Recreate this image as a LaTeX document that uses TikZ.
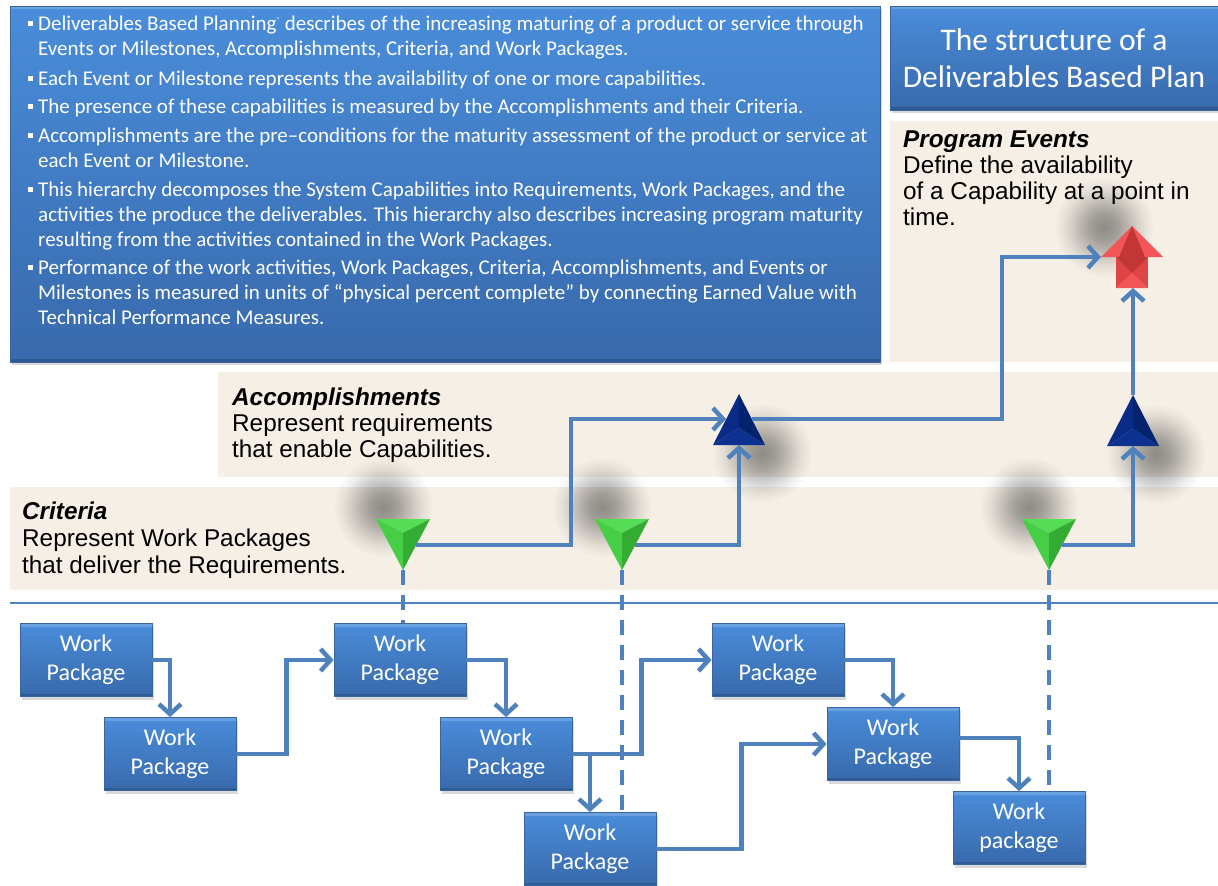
\documentclass[tikz,border=0pt]{standalone}
\usepackage{fontspec}
\setmainfont{Carlito}
\newfontfamily\labelfont{Liberation Sans}
\usetikzlibrary{arrows.meta,shadows,fadings,calc}

\definecolor{panelbg}{HTML}{F5EFE6}
\definecolor{linkblue}{HTML}{4F81BD}
\definecolor{boxtop}{HTML}{4A8DDA}
\definecolor{boxbot}{HTML}{3869AC}
\definecolor{boxedge}{HTML}{3A659E}
\definecolor{crittop}{HTML}{55DD55}
\definecolor{critleft}{HTML}{46CE46}
\definecolor{critright}{HTML}{34AC34}
\definecolor{acctop}{HTML}{0C3190}
\definecolor{accleft}{HTML}{0A2C86}
\definecolor{accright}{HTML}{04236F}
\definecolor{evlight}{HTML}{F25656}
\definecolor{evmid}{HTML}{DE4646}
\definecolor{evdark}{HTML}{C23636}

% soft round shadow: opaque centre, gradual fall-off
\pgfdeclareradialshading{spotshade}{\pgfpointorigin}{%
  color(0bp)=(pgftransparent!0); color(7bp)=(pgftransparent!20);
  color(14bp)=(pgftransparent!55); color(20bp)=(pgftransparent!85);
  color(25bp)=(pgftransparent!100); color(50bp)=(pgftransparent!100)}
\pgfdeclarefading{softspot}{\pgfuseshading{spotshade}}

\newcommand\sqbullet{\llap{\raisebox{4pt}{\rule{5.5pt}{5.5pt}}\hspace{5pt}}}

\begin{document}
\begin{tikzpicture}[x=1pt,y=-1pt,
  bevel/.style={path picture={
      \fill[white,opacity=.18] (path picture bounding box.north west) rectangle ([yshift=-3pt]path picture bounding box.north east);
      \fill[black,opacity=.15] (path picture bounding box.south west) rectangle ([yshift=3pt]path picture bounding box.south east);}},
  bluebox/.style={draw=boxedge, line width=0.8pt, top color=boxtop, bottom color=boxbot,
      inner sep=0pt, bevel, drop shadow={opacity=0.3, shadow xshift=2pt, shadow yshift=-3pt}},
  wp/.style={bluebox, minimum width=132pt, minimum height=73pt, align=center, text=white,
      font=\fontsize{24}{29}\selectfont},
  panel/.style={fill=panelbg},
  conn/.style={draw=linkblue, line width=4.5pt, -{Straight Barb[length=10pt,width=22pt]}},
  critdash/.style={draw=linkblue, line width=3.5pt, dash pattern=on 15pt off 10pt},
  bul/.style={anchor=base west, inner sep=0pt, text=white, font=\fontsize{21}{24}\selectfont},
  lab/.style={anchor=base west, inner sep=0pt, text=black, font=\labelfont\fontsize{24.3}{27}\selectfont},
  spot/.style={fill=black, fill opacity=.42, path fading=softspot},
  pics/criterion/.style={code={
      \fill[spot] (-20,-38) circle (50);
      \fill[crittop] (-27,-26) -- (27,-26) -- (0,-12) -- cycle;
      \fill[critleft] (-27,-26) -- (0,-12) -- (0,25) -- cycle;
      \fill[critright] (27,-26) -- (0,-12) -- (0,25) -- cycle;
      \coordinate (-east) at (13,0);
      \coordinate (-apex) at (0,25);}},
  pics/accomplishment/.style={code={
      \fill[spot] (23,34) circle (50);
      \fill[accleft] (0,-25) -- (-26,26) -- (0,9) -- cycle;
      \fill[accright] (0,-25) -- (26,26) -- (0,9) -- cycle;
      \fill[acctop] (-26,26) -- (26,26) -- (0,9) -- cycle;
      \coordinate (-west) at (-13,0);
      \coordinate (-east) at (13,0);
      \coordinate (-south) at (0,26);
      \coordinate (-north) at (0,-25);}},
  pics/eventmark/.style={code={
      \fill[spot] (-28,-30) circle (50);
      \fill[evlight] (-31,0) -- (0,-31) -- (31,0) -- cycle;
      \fill[evdark] (-13,0) -- (0,-31) -- (13,0) -- cycle;
      \fill[evmid] (-16,0) rectangle (16,31);
      \fill[evdark] (-16,0) -- (16,0) -- (0,16) -- cycle;
      \fill[evlight] (-16,31) -- (0,16) -- (16,31) -- cycle;
      \coordinate (-west) at (-31,0);
      \coordinate (-south) at (0,31);}}
]
\useasboundingbox (0,0) rectangle (1218,886);

% background bands for the three levels
\fill[panel] (890,121) rectangle (1218,362);
\fill[panel] (218,372) rectangle (1218,477);
\fill[panel] (10,487) rectangle (1218,590);
\draw[linkblue, line width=2pt] (10,603) -- (1218,603);

% description and title boxes
\node[bluebox, minimum width=870pt, minimum height=356pt] (intro) at (445,184) {};
\node[bluebox, minimum width=328pt, minimum height=104pt, align=center, text=white,
      font=\fontsize{31.5}{37}\selectfont] (title) at (1054,58) {The structure of a\\Deliverables Based Plan};

% bullet list
\node[bul] (l1) at (38,30) {\sqbullet Deliverables Based Planning\raisebox{8pt}{\fontsize{7}{7}\selectfont ®} describes of the increasing maturing of a product or service through};
\node[bul] (l2) at (38,55) {Events or Milestones, Accomplishments, Criteria, and Work Packages.};
\node[bul] (l3) at (38,85) {\sqbullet Each Event or Milestone represents the availability of one or more capabilities.};
\node[bul] (l4) at (38,113) {\sqbullet The presence of these capabilities is measured by the Accomplishments and their Criteria.};
\node[bul] (l5) at (38,142) {\sqbullet Accomplishments are the pre–conditions for the maturity assessment of the product or service at};
\node[bul] (l6) at (38,167) {each Event or Milestone.};
\node[bul] (l7) at (38,196) {\sqbullet This hierarchy decomposes the System Capabilities into Requirements, Work Packages, and the};
\node[bul] (l8) at (38,221) {activities the produce the deliverables. This hierarchy also describes increasing program maturity};
\node[bul] (l9) at (38,246) {resulting from the activities contained in the Work Packages.};
\node[bul] (l10) at (38,274) {\sqbullet Performance of the work activities, Work Packages, Criteria, Accomplishments, and Events or};
\node[bul] (l11) at (38,299) {Milestones is measured in units of “physical percent complete” by connecting Earned Value with};
\node[bul] (l12) at (38,324) {Technical Performance Measures.};

% level captions
\node[lab] (pe1) at (903,147) {\textbf{\textit{Program Events}}};
\node[lab] (pe2) at (903,173) {Define the availability};
\node[lab] (pe3) at (903,199) {of a Capability at a point in};
\node[lab] (pe4) at (903,225) {time.};
\node[lab] (ac1) at (232,405) {\textbf{\textit{Accomplishments}}};
\node[lab] (ac2) at (232,431) {Represent requirements};
\node[lab] (ac3) at (232,457) {that enable Capabilities.};
\node[lab] (cr1) at (22,519) {\textbf{\textit{Criteria}}};
\node[lab] (cr2) at (22,546) {Represent Work Packages};
\node[lab] (cr3) at (22,573) {that deliver the Requirements.};

% markers
\pic (ev) at (1132,257) {eventmark};
\pic (b1) at (739,419) {accomplishment};
\pic (b2) at (1133,420) {accomplishment};
\pic (g1) at (403,545) {criterion};
\pic (g2) at (622,545) {criterion};
\pic (g3) at (1049,545) {criterion};

% work packages
\node[wp] (w1) at (86,660) {Work\\Package};
\node[wp] (w2) at (170,754) {Work\\Package};
\node[wp] (w3) at (400,660) {Work\\Package};
\node[wp] (w4) at (506,754) {Work\\Package};
\node[wp] (w5) at (778,660) {Work\\Package};
\node[wp] (w6) at (590,849) {Work\\Package};
\node[wp] (w7) at (893,744) {Work\\Package};
\node[wp] (w8) at (1019,828) {Work\\package};

% criteria tied to their work packages
\draw[critdash] (g1-apex) -- (g1-apex |- w3.north);
\draw[critdash] (g2-apex) -- (g2-apex |- w6.north);
\draw[critdash] (g3-apex) -- (g3-apex |- w8.north);

% upward roll-up
\draw[conn] (g1-east) -- ++(155,0) |- (b1-west);
\draw[conn] (g2-east) -| (b1-south);
\draw[conn] (b1-east) -- ++(250,0) |- (ev-west);
\draw[conn] (g3-east) -| (b2-south);
\draw[conn] (b2-north) -- (b2-north |- ev-south);

% work package flow
\draw[conn] (w1.east) -| (w2.north);
\draw[conn] (w2.east) -- ++(50,0) |- (w3.west);
\draw[conn] (w3.east) -| (w4.north);
\draw[conn] (w4.east) -- ++(69,0) |- (w5.west);
\draw[conn] (w4.east) -| (w6.north);
\draw[conn] (w5.east) -| (w7.north);
\draw[conn] (w6.east) -- ++(85,0) |- (w7.west);
\draw[conn] ([yshift=6pt]w7.east) -| (w8.north);
\end{tikzpicture}
\end{document}
